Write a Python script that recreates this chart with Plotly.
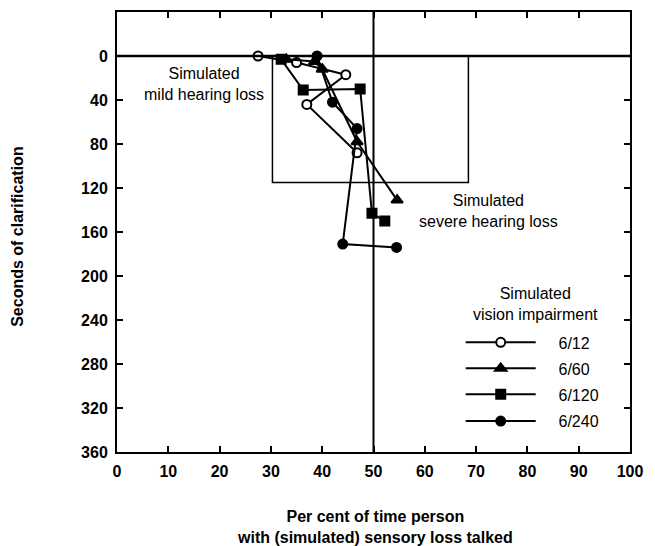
import plotly.graph_objects as go

# ---- data ----
vision_labels = ["6/12", "6/60", "6/120", "6/240"]
x_612 = [27.5, 35.0, 44.6, 37.0, 46.8]
y_612 = [0, 6, 17, 44, 88]
x_660 = [33.0, 38.5, 40.0, 46.8, 54.6]
y_660 = [3, 5, 12, 78, 131]
x_6120 = [32.0, 36.3, 47.4, 49.7, 52.2]
y_6120 = [3, 31, 30, 143, 150]
x_6240 = [39.0, 42.0, 46.8, 44.0, 54.5]
y_6240 = [0, 42, 66, 171, 174]

x_ticks = [0, 10, 20, 30, 40, 50, 60, 70, 80, 90, 100]
y_ticks = [0, 40, 80, 120, 160, 200, 240, 280, 320, 360]

# mild hearing-loss region and reference lines
mild_x = [30.3, 68.5]
mild_y = [0, 115]
ref_x = 50
ref_y = 0

FONT = "Liberation Sans, Arial, Helvetica, sans-serif"
PAD = "\u00a0\u00a0\u00a0\u00a0"

series = [
    (x_612, y_612, "circle", "white"),
    (x_660, y_660, "triangle-up", "black"),
    (x_6120, y_6120, "square", "black"),
    (x_6240, y_6240, "circle", "black"),
]

fig = go.Figure()
legend_ids = ["legend", "legend2", "legend3", "legend4"]
for (xs, ys, sym, fill), name, lg in zip(series, vision_labels, legend_ids):
    fig.add_trace(go.Scatter(
        x=xs, y=ys, mode="lines+markers", name=PAD + name, legend=lg,
        line=dict(color="black", width=2),
        marker=dict(symbol=sym, size=9 if sym != "triangle-up" else 10,
                    color=fill, line=dict(color="black", width=2)),
    ))

# shapes: mild box, reference lines
fig.add_shape(type="rect", x0=mild_x[0], x1=mild_x[1], y0=mild_y[0], y1=mild_y[1],
              xref="x", yref="y", line=dict(color="black", width=1.5), layer="below")
fig.add_shape(type="line", x0=0, x1=100, y0=ref_y, y1=ref_y, xref="x", yref="y",
              line=dict(color="black", width=2.5))
fig.add_shape(type="line", x0=ref_x, x1=ref_x, y0=-40, y1=360, xref="x", yref="y",
              line=dict(color="black", width=2))

# annotations
fig.add_annotation(x=17, y=25, xref="x", yref="y", showarrow=False, xanchor="center",
                   text="Simulated<br>mild hearing loss", align="center",
                   font=dict(family=FONT, size=16, color="black"))
fig.add_annotation(x=72.5, y=141, xref="x", yref="y", showarrow=False, xanchor="center",
                   text="Simulated<br>severe hearing loss", align="center",
                   font=dict(family=FONT, size=16, color="black"))
fig.add_annotation(x=0.815, y=0.336, xref="paper", yref="paper", showarrow=False,
                   xanchor="center", yanchor="middle",
                   text="Simulated<br>vision impairment", align="center",
                   font=dict(family=FONT, size=16, color="black"))
# axis titles
fig.add_annotation(x=-0.193, y=0.489, xref="paper", yref="paper", showarrow=False,
                   xanchor="center", yanchor="middle",
                   text="<b>Seconds of clarification</b>", textangle=-90,
                   font=dict(family=FONT, size=16, color="black"))
fig.add_annotation(x=0.503, y=-0.122, xref="paper", yref="paper", showarrow=False,
                   xanchor="center", yanchor="top",
                   text="<b>Per cent of time person<br>with (simulated) sensory loss talked</b>",
                   font=dict(family=FONT, size=16, color="black"))

leg_common = dict(xanchor="left", yanchor="middle", bgcolor="rgba(0,0,0,0)",
                  borderwidth=0, itemwidth=70,
                  font=dict(family=FONT, size=16, color="black"))
leg_y = [0.249, 0.190, 0.131, 0.070]
layout_legends = {}
for lg, yy in zip(legend_ids, leg_y):
    layout_legends[lg] = dict(x=0.67, y=yy, **leg_common)

fig.update_layout(
    width=655, height=546,
    margin=dict(l=109, r=33, t=2, b=102),
    paper_bgcolor="white", plot_bgcolor="white",
    showlegend=True,
    **layout_legends,
    xaxis=dict(range=[0, 100], tickvals=x_ticks, ticktext=[str(v) for v in x_ticks],
               ticks="inside", ticklen=6, tickwidth=2, tickcolor="black",
               showline=True, linewidth=2, linecolor="black", mirror="allticks",
               showgrid=False, zeroline=False, ticklabelstandoff=4,
               tickfont=dict(family=FONT, size=16, color="black", weight="bold")),
    yaxis=dict(range=[360, -40], tickvals=y_ticks, ticktext=[str(v) for v in y_ticks],
               ticks="inside", ticklen=6, tickwidth=2, tickcolor="black",
               showline=True, linewidth=2, linecolor="black", mirror="allticks",
               showgrid=False, zeroline=False, ticklabelstandoff=4,
               tickfont=dict(family=FONT, size=16, color="black", weight="bold")),
)

fig.write_html("out.html")
